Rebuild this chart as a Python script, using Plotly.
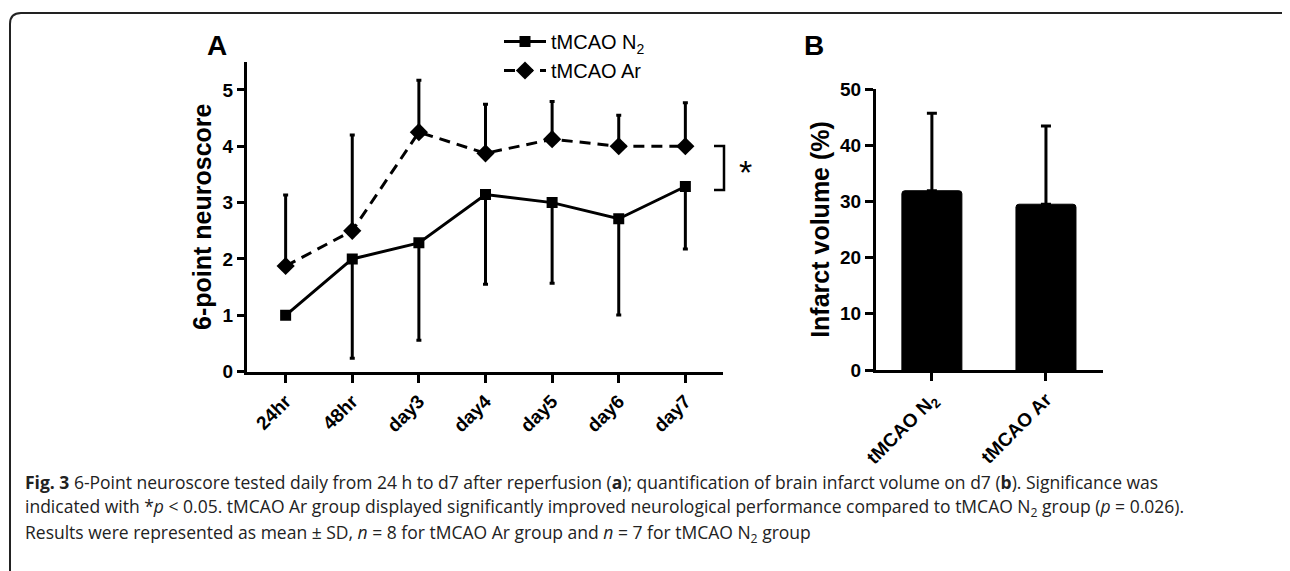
import plotly.graph_objects as go

# ---- data ----
days = ["24hr", "48hr", "day3", "day4", "day5", "day6", "day7"]
n2_mean = [1.0, 2.0, 2.286, 3.143, 3.0, 2.714, 3.286]
n2_sd = [0.0, 1.76, 1.73, 1.59, 1.43, 1.71, 1.11]
ar_mean = [1.875, 2.5, 4.25, 3.875, 4.125, 4.0, 4.0]
ar_sd = [1.26, 1.70, 0.92, 0.87, 0.67, 0.55, 0.77]

groups = ["tMCAO N<sub>2</sub>", "tMCAO Ar"]
infarct_mean = [31.9, 29.5]
infarct_sd = [13.8, 13.9]

W, H = 1290, 571
OFF = 8  # page body margin of the viewer
def px(x):
    return (x - OFF) / W
def py(y):
    return 1 - (y - OFF) / H

FONT = "Arial, Liberation Sans, Helvetica, sans-serif"
CAP_FONT = "Open Sans, Noto Sans, sans-serif"

fig = go.Figure()

fig.add_trace(go.Scatter(
    x=list(range(len(days))), y=n2_mean, mode="lines+markers",
    name="tMCAO N<sub>2</sub>", legend="legend",
    line=dict(color="black", width=3),
    marker=dict(symbol="square", size=11, color="black"),
    error_y=dict(type="data", symmetric=False, array=[0] * len(days),
                 arrayminus=n2_sd, color="black", thickness=3, width=2.5),
    xaxis="x", yaxis="y"))

fig.add_trace(go.Scatter(
    x=list(range(len(days))), y=ar_mean, mode="lines+markers",
    name="tMCAO Ar", legend="legend2",
    line=dict(color="black", width=3, dash="11px,7px"),
    marker=dict(symbol="diamond", size=14, color="black"),
    error_y=dict(type="data", symmetric=False, array=ar_sd,
                 arrayminus=[0] * len(days), color="black", thickness=3, width=2.5),
    xaxis="x", yaxis="y"))

fig.add_trace(go.Bar(
    x=[0, 1], y=infarct_mean, width=0.526, showlegend=False,
    marker=dict(color="black", line=dict(color="black", width=1), cornerradius=3),
    error_y=dict(type="data", symmetric=False, array=infarct_sd,
                 arrayminus=[0, 0], color="black", thickness=3, width=5),
    xaxis="x2", yaxis="y2"))

line_common = dict(showline=True, linecolor="black", linewidth=3,
                   ticks="outside", tickwidth=3, tickcolor="black",
                   showgrid=False, zeroline=False, automargin=False)
ytick_font = dict(family=FONT, size=19, color="black", weight="bold")
xtick_font = dict(family=FONT, size=19, color="black", weight="bold")
title_font = dict(family=FONT, size=25, color="black", weight="bold")

fig.update_layout(
    template="none",
    width=W, height=H, margin=dict(l=0, r=0, t=0, b=0, pad=0, autoexpand=False),
    paper_bgcolor="white", plot_bgcolor="white",
    font=dict(family=FONT, color="black"),
    xaxis=dict(domain=[px(247), px(723)], range=[-0.58, 6.565],
               tickvals=list(range(len(days))), ticktext=days, tickangle=-45,
               ticklen=8, anchor="y", tickfont=xtick_font, **line_common),
    yaxis=dict(domain=[py(371.7), py(61.7)], range=[0, 5.5],
               tickvals=[0, 1, 2, 3, 4, 5], anchor="x", tickfont=ytick_font,
               ticklen=7,
               title=dict(text="6-point neuroscore", standoff=4, font=title_font),
               **line_common),
    xaxis2=dict(domain=[px(876), px(1103)], range=[-0.49, 1.5],
                tickvals=[0, 1], ticktext=groups, tickangle=-45, anchor="y2",
                ticklen=8, tickfont=xtick_font, **line_common),
    yaxis2=dict(domain=[py(370), py(89)], range=[0, 50],
                tickvals=[0, 10, 20, 30, 40, 50], anchor="x2", tickfont=ytick_font,
                ticklen=8,
                title=dict(text="Infarct volume (%)", standoff=4, font=title_font),
                **line_common),
    legend=dict(x=px(499), y=py(22), xanchor="left", yanchor="top",
                bgcolor="rgba(0,0,0,0)", itemwidth=42,
                font=dict(family=FONT, size=20, color="black")),
    legend2=dict(x=px(499), y=py(51), xanchor="left", yanchor="top",
                 bgcolor="rgba(0,0,0,0)", itemwidth=42,
                 font=dict(family=FONT, size=20, color="black")),
)

# significance bracket
fig.add_shape(type="path", xref="paper", yref="paper",
              path=f"M {px(714)},{py(146)} L {px(724)},{py(146)} L {px(724)},{py(190)} L {px(714)},{py(190)}",
              line=dict(color="black", width=2.5))
fig.add_annotation(x=px(746), y=py(172), xref="paper", yref="paper", text="*",
                   xanchor="center", yanchor="middle",
                   showarrow=False, font=dict(family=FONT, size=34, color="black"))

# panel labels
fig.add_annotation(x=px(217), y=py(46), xref="paper", yref="paper", text="<b>A</b>",
                   xanchor="center", yanchor="middle",
                   showarrow=False, font=dict(family=FONT, size=28, color="black"))
fig.add_annotation(x=px(814), y=py(46), xref="paper", yref="paper", text="<b>B</b>",
                   xanchor="center", yanchor="middle",
                   showarrow=False, font=dict(family=FONT, size=28, color="black"))

# frame
fig.add_shape(type="path", xref="paper", yref="paper",
              path=(f"M {px(10)},{py(575)} L {px(10)},{py(24)} Q {px(10)},{py(13)} {px(21)},{py(13)} "
                    f"L {px(1284)},{py(13)} Q {px(1288)},{py(13)} {px(1290)},{py(16)}"),
              line=dict(color="#222", width=2))

# caption
captions = [
    "<b>Fig. 3</b> 6-Point neuroscore tested daily from 24 h to d7 after reperfusion (<b>a</b>); "
    "quantification of brain infarct volume on d7 (<b>b</b>). Significance was",
    "indicated with *<i>p</i> &lt; 0.05. tMCAO Ar group displayed significantly improved neurological "
    "performance compared to tMCAO N<sub>2</sub> group (<i>p</i> = 0.026).",
    "Results were represented as mean ± SD, <i>n</i> = 8 for tMCAO Ar group and <i>n</i> = 7 for "
    "tMCAO N<sub>2</sub> group",
]
for i, t in enumerate(captions):
    fig.add_annotation(x=px(23), y=py(482 + 25.5 * i), xref="paper", yref="paper",
                       xanchor="left", yanchor="middle", text=t, showarrow=False,
                       font=dict(family=CAP_FONT, size=17.5, color="#222"))

fig.write_html("out.html")
